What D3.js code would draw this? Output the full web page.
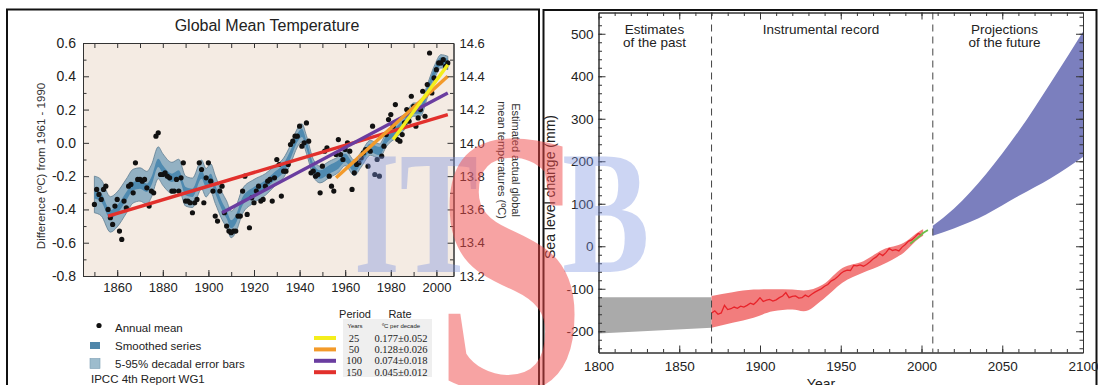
<!DOCTYPE html>
<html>
<head>
<meta charset="utf-8">
<script src="https://cdn.jsdelivr.net/npm/d3@7"></script>
<style>
  html, body { margin: 0; padding: 0; background: #fff; }
  svg { display: block; font-family: "Liberation Sans", Arial, Helvetica, sans-serif; }
</style>
</head>
<body>
<svg id="chart" width="1098" height="385"></svg>
<script>
// ---------------- data: global mean temperature ----------------
const tempFirstYear = 1850;
// annual mean anomaly (ºC vs 1961-1990), 1850..2005
const tempAnomaly = [
  -0.37, -0.28, -0.31, -0.34, -0.28, -0.26, -0.40, -0.45, -0.49, -0.38,
  -0.34, -0.53, -0.58, -0.35, -0.39, -0.26, -0.25, -0.30, -0.12, -0.22,
  -0.22, -0.23, -0.22, -0.27, -0.38, -0.29, -0.30,  0.04,  0.06, -0.19,
  -0.19, -0.18, -0.20, -0.21, -0.29, -0.29, -0.22, -0.29, -0.21, -0.12,
  -0.35, -0.35, -0.36, -0.42, -0.36, -0.34, -0.12, -0.16, -0.36, -0.21,
  -0.12, -0.23, -0.29, -0.44, -0.47, -0.29, -0.26, -0.42, -0.50, -0.53,
  -0.54, -0.53, -0.53, -0.44, -0.44, -0.29, -0.20, -0.43, -0.51, -0.33,
  -0.36, -0.29, -0.26, -0.35, -0.34, -0.26, -0.23, -0.22, -0.35, -0.21,
  -0.10, -0.13, -0.32, -0.17, -0.17, -0.13, -0.01,  0.01,  0.04,  0.04,
   0.10, -0.02,  0.00,  0.12,  0.01, -0.18, -0.17, -0.20, -0.19, -0.30,
  -0.14, -0.05, -0.03, -0.20, -0.26, -0.29, -0.07,  0.02, -0.07, -0.10,
  -0.04,  0.00, -0.05, -0.28, -0.18, -0.13, -0.12, -0.09, -0.06, -0.04,
  -0.14, -0.05,  0.10, -0.19, -0.10, -0.20, -0.08, -0.02,  0.05,  0.14,
   0.17,  0.10,  0.23,  0.02,  0.01,  0.05,  0.12,  0.20,  0.13,  0.28,
   0.22,  0.10,  0.15,  0.20,  0.31,  0.16,  0.35,  0.54,  0.30,  0.39,
   0.44,  0.48,  0.48,  0.50,  0.46,  0.48
];

// smoothed series (decadal), read at irregular years
const smoothYears = [1850, 1853, 1857, 1860, 1864, 1867, 1870, 1873, 1875, 1878,
  1880, 1884, 1887, 1890, 1893, 1897, 1899, 1901, 1903, 1906, 1908, 1910, 1912,
  1915, 1920, 1925, 1929, 1933, 1936, 1939, 1941, 1943, 1946, 1949, 1953, 1957,
  1960, 1964, 1967, 1971, 1975, 1978, 1983, 1986, 1990, 1993, 1996, 1999, 2002, 2005];
const smoothValues = [-0.31, -0.33, -0.43, -0.40, -0.32, -0.26, -0.25, -0.27, -0.23, -0.12,
  -0.16, -0.21, -0.19, -0.29, -0.30, -0.19, -0.24, -0.21, -0.28, -0.38, -0.43, -0.49, -0.46,
  -0.35, -0.29, -0.25, -0.20, -0.15, -0.07, 0.03, 0.06, -0.01, -0.15, -0.19, -0.16, -0.13,
  -0.09, -0.15, -0.10, -0.03, -0.05, 0.02, 0.08, 0.12, 0.20, 0.20, 0.31, 0.42, 0.49, 0.48];

// 5-95% decadal error (half width, ºC)
const errYears = [1850, 1870, 1890, 1910, 1930, 1950, 1970, 1990, 2005];
const errHalf = [0.11, 0.10, 0.09, 0.08, 0.06, 0.05, 0.045, 0.04, 0.04];
const smoothHalf = 0.025;

// linear trends (legend table)
const trendPeriods = ['25', '50', '100', '150'];
const trendRates = ['0.177±0.052', '0.128±0.026', '0.074±0.018', '0.045±0.012'];
const trendStartYear = [1981, 1956, 1906, 1856];
const trendEndYear = [2005, 2005, 2005, 2005];
const trendStartValue = [0.02, -0.21, -0.42, -0.44];
const trendEndValue = [0.47, 0.40, 0.30, 0.17];

const tempYTicks = [-0.8, -0.6, -0.4, -0.2, 0.0, 0.2, 0.4, 0.6];
const absYTicks = [13.2, 13.4, 13.6, 13.8, 14.0, 14.2, 14.4, 14.6];
const tempXTicks = [1860, 1880, 1900, 1920, 1940, 1960, 1980, 2000];

// ---------------- data: sea level ----------------
const pastYears = [1800, 1870];
const pastUpper = [-120, -120];
const pastLower = [-205, -192];

const gaugeYears = [1870, 1872, 1874, 1876, 1878, 1880, 1882, 1884, 1886, 1888,
  1890, 1892, 1894, 1896, 1898, 1900, 1902, 1904, 1906, 1908,
  1910, 1912, 1914, 1916, 1918, 1920, 1922, 1924, 1926, 1928,
  1930, 1932, 1934, 1936, 1938, 1940, 1942, 1944, 1946, 1948,
  1950, 1952, 1954, 1956, 1958, 1960, 1962, 1964, 1966, 1968,
  1970, 1972, 1974, 1976, 1978, 1980, 1982, 1984, 1986, 1988,
  1990, 1992, 1994, 1996, 1998, 2000];
const gaugeValues = [-157, -152, -160, -157, -139, -149, -147, -143, -146, -141,
  -143, -139, -134, -137, -130, -121, -130, -127, -125, -129,
  -126, -121, -117, -109, -121, -118, -117, -122, -121, -115,
  -119, -113, -108, -104, -100, -94, -90, -82, -78, -72,
  -64, -59, -56, -57, -45, -46, -44, -47, -43, -37,
  -30, -25, -17, -22, -15, -5, -10, -8, -11, -2,
  4, 12, 15, 22, 30, 27];

const gaugeBandYears = [1870, 1883, 1896, 1908, 1920, 1927, 1939, 1951, 1964, 1976, 1989, 1999, 2001];
const gaugeBandUpper = [-117, -108, -102, -101, -102, -104, -90, -51, -35, -8, 8, 36, 40];
const gaugeBandLower = [-192, -180, -168, -153, -149, -153, -125, -86, -62, -43, -15, 20, 25];

const satYears = [1993, 1995, 1997, 1999, 2001, 2003, 2004];
const satValues = [6, 12, 18, 24, 31, 36, 38];

const projYears = [2007, 2020, 2040, 2060, 2080, 2100];
const projUpper = [48, 88, 170, 270, 385, 505];
const projLower = [25, 42, 75, 118, 160, 210];

const eraBounds = [1870, 2007];
const seaYTicks = [-200, -100, 0, 100, 200, 300, 400, 500];
const seaXTicks = [1800, 1850, 1900, 1950, 2000, 2050, 2100];

// ---------------- styles ----------------
const trendColors = ['#f4ee1c', '#f39a2a', '#6a3da0', '#e2302c'];
const ink = '#222';

const svg = d3.select('#chart');

// panel frames
svg.append('rect').attr('x', 7).attr('y', 9.5).attr('width', 532).attr('height', 400)
  .attr('fill', 'none').attr('stroke', '#111').attr('stroke-width', 2);
svg.append('rect').attr('x', 543.5).attr('y', 10).attr('width', 553).attr('height', 400)
  .attr('fill', 'none').attr('stroke', '#111').attr('stroke-width', 2);

// helper: style an axis group
function styleAxis(g, size) {
  g.attr('font-family', null).attr('font-size', null);
  g.selectAll('.domain').attr('stroke', '#333');
  g.selectAll('.tick line').attr('stroke', '#333');
  g.selectAll('text').attr('fill', ink).style('font-size', size + 'px');
}
const fmt1 = d => d.toFixed(1);
const fmt0 = d => String(d);

// =================== LEFT: Global Mean Temperature ===================
const T = { left: 83, right: 453.5, top: 43, bottom: 276 };
const xT = d3.scaleLinear().domain([1845, 2007.5]).range([T.left, T.right]);
const yT = d3.scaleLinear().domain([-0.8, 0.6]).range([T.bottom, T.top]);
const yAbs = d3.scaleLinear().domain([13.2, 14.6]).range([T.bottom, T.top]);

svg.append('text').attr('x', 267).attr('y', 31).attr('text-anchor', 'middle')
  .attr('fill', ink).style('font-size', '16px').text('Global Mean Temperature');

svg.append('rect').attr('x', T.left).attr('y', T.top)
  .attr('width', T.right - T.left).attr('height', T.bottom - T.top)
  .attr('fill', '#f4ebe3');

const gT = svg.append('g');

// error band + smoothed series
const errScale = d3.scaleLinear().domain(errYears).range(errHalf);
const smooth = smoothYears.map((yr, i) => ({ yr, v: smoothValues[i], e: errScale(yr) }));

gT.append('path').datum(smooth)
  .attr('d', d3.area().curve(d3.curveMonotoneX)
    .x(d => xT(d.yr)).y0(d => yT(d.v - d.e)).y1(d => yT(d.v + d.e)))
  .attr('fill', '#93b1c3').attr('stroke', '#5f7d92').attr('stroke-width', 0.8);

gT.append('path').datum(smooth)
  .attr('d', d3.area().curve(d3.curveMonotoneX)
    .x(d => xT(d.yr)).y0(d => yT(d.v - smoothHalf)).y1(d => yT(d.v + smoothHalf)))
  .attr('fill', '#4f8ab0');

// annual means
gT.selectAll('circle.annual').data(tempAnomaly).enter().append('circle')
  .attr('class', 'annual')
  .attr('cx', (d, i) => xT(tempFirstYear + i))
  .attr('cy', d => yT(d))
  .attr('r', 2.6).attr('fill', '#111');

// trend lines (longest first so yellow ends on top)
const trendLine = d3.line().x(d => xT(d[0])).y(d => yT(d[1]));
d3.range(trendPeriods.length).reverse().forEach(i => {
  gT.append('path')
    .datum([[trendStartYear[i], trendStartValue[i]], [trendEndYear[i], trendEndValue[i]]])
    .attr('d', trendLine).attr('fill', 'none')
    .attr('stroke', trendColors[i]).attr('stroke-width', 3.4);
});

// axes (ticks pointing inward)
svg.append('g').attr('transform', `translate(${T.left},0)`)
  .call(d3.axisLeft(yT).tickValues(d3.range(-0.7, 0.6, 0.2)).tickSize(-3.5).tickSizeOuter(0).tickFormat(''))
  .call(g => styleAxis(g, 14));
svg.append('g').attr('transform', `translate(${T.left},0)`)
  .call(d3.axisLeft(yT).tickValues(tempYTicks).tickSize(-6).tickSizeOuter(0).tickPadding(7).tickFormat(fmt1))
  .call(g => styleAxis(g, 14));

svg.append('g').attr('transform', `translate(${T.right},0)`)
  .call(d3.axisRight(yAbs).tickValues(d3.range(13.3, 14.6, 0.2)).tickSize(-3.5).tickSizeOuter(0).tickFormat(''))
  .call(g => styleAxis(g, 13));
svg.append('g').attr('transform', `translate(${T.right},0)`)
  .call(d3.axisRight(yAbs).tickValues(absYTicks).tickSize(-6).tickSizeOuter(0).tickPadding(6).tickFormat(fmt1))
  .call(g => styleAxis(g, 13));

svg.append('g').attr('transform', `translate(0,${T.bottom})`)
  .call(d3.axisBottom(xT).tickValues(d3.range(1850, 2006, 10)).tickSize(-4).tickSizeOuter(0).tickFormat(''))
  .call(g => styleAxis(g, 13));
svg.append('g').attr('transform', `translate(0,${T.bottom})`)
  .call(d3.axisBottom(xT).tickValues(tempXTicks).tickSize(-6).tickSizeOuter(0).tickPadding(7).tickFormat(fmt0))
  .call(g => styleAxis(g, 13));

svg.append('g').attr('transform', `translate(0,${T.top})`)
  .call(d3.axisTop(xT).tickValues(d3.range(1850, 2006, 10)).tickSize(-5).tickSizeOuter(0).tickFormat(''))
  .call(g => styleAxis(g, 13));

// axis titles
svg.append('text').attr('transform', 'translate(45,166) rotate(-90)')
  .attr('text-anchor', 'middle').attr('fill', '#333').style('font-size', '11.5px')
  .text('Difference (ºC) from 1961 - 1990');

const rt = svg.append('text').attr('transform', 'translate(512,160) rotate(90)')
  .attr('text-anchor', 'middle').attr('fill', '#333').style('font-size', '11px');
rt.append('tspan').attr('x', 0).attr('dy', 0).text('Estimated actual global');
rt.append('tspan').attr('x', 0).attr('dy', 14).text('mean temperatures (ºC)');

// legend (left)
const lg = svg.append('g').style('font-size', '11.5px').attr('fill', ink);
lg.append('circle').attr('cx', 99).attr('cy', 325.5).attr('r', 2.6).attr('fill', '#111');
lg.append('text').attr('x', 115).attr('y', 332).text('Annual mean');
lg.append('rect').attr('x', 90).attr('y', 342).attr('width', 10).attr('height', 7).attr('fill', '#4f86aa');
lg.append('text').attr('x', 115).attr('y', 350).text('Smoothed series');
lg.append('rect').attr('x', 90).attr('y', 358.5).attr('width', 10).attr('height', 10)
  .attr('fill', '#9dbccd').attr('stroke', '#7a9db3').attr('stroke-width', 0.6);
lg.append('text').attr('x', 115).attr('y', 367.5).text('5-95% decadal error bars');
lg.append('text').attr('x', 91).attr('y', 382.5).text('IPCC 4th Report WG1');

// legend table (right)
const tb = svg.append('g').attr('fill', ink);
tb.append('rect').attr('x', 343).attr('y', 319).attr('width', 89).attr('height', 58).attr('fill', '#efefef');
tb.append('text').attr('x', 355).attr('y', 318).attr('text-anchor', 'middle').style('font-size', '11px').text('Period');
tb.append('text').attr('x', 400).attr('y', 318).attr('text-anchor', 'middle').style('font-size', '11px').text('Rate');
tb.append('text').attr('x', 355).attr('y', 327.5).attr('text-anchor', 'middle').style('font-size', '6px').text('Years');
tb.append('text').attr('x', 401).attr('y', 327.5).attr('text-anchor', 'middle').style('font-size', '6px').text('ºC  per decade');
trendPeriods.forEach((p, i) => {
  const cy = 338 + i * 11.4;
  tb.append('rect').attr('x', 314).attr('y', cy - 2).attr('width', 22).attr('height', 4).attr('fill', trendColors[i]);
  tb.append('text').attr('x', 354).attr('y', cy + 3.6).attr('text-anchor', 'middle')
    .style('font-family', '"Liberation Serif", serif').style('font-size', '10.5px').text(p);
  tb.append('text').attr('x', 401).attr('y', cy + 3.6).attr('text-anchor', 'middle')
    .style('font-family', '"Liberation Serif", serif').style('font-size', '10.5px').text(trendRates[i]);
});

// =================== RIGHT: Sea level change ===================
const S = { left: 598.5, right: 1083, top: 12.5, bottom: 352.5 };
const xS = d3.scaleLinear().domain([1800, 2100]).range([S.left, S.right]);
const yS = d3.scaleLinear().domain([-250, 550]).range([S.bottom, S.top]);
const gS = svg.append('g');

// estimates of the past
gS.append('path').datum(pastYears.map((yr, i) => [yr, pastLower[i], pastUpper[i]]))
  .attr('d', d3.area().x(d => xS(d[0])).y0(d => yS(d[1])).y1(d => yS(d[2])))
  .attr('fill', '#aaaaaa');

// tide gauge band + record
gS.append('path').datum(gaugeBandYears.map((yr, i) => [yr, gaugeBandLower[i], gaugeBandUpper[i]]))
  .attr('d', d3.area().curve(d3.curveMonotoneX).x(d => xS(d[0])).y0(d => yS(d[1])).y1(d => yS(d[2])))
  .attr('fill', '#f27d7d');
gS.append('path').datum(gaugeYears.map((yr, i) => [yr, gaugeValues[i]]))
  .attr('d', d3.line().x(d => xS(d[0])).y(d => yS(d[1])))
  .attr('fill', 'none').attr('stroke', '#e8232a').attr('stroke-width', 1.3);

// satellite altimetry
gS.append('path').datum(satYears.map((yr, i) => [yr, satValues[i]]))
  .attr('d', d3.line().x(d => xS(d[0])).y(d => yS(d[1])))
  .attr('fill', 'none').attr('stroke', '#6cbf48').attr('stroke-width', 1.8);

// projections
gS.append('path').datum(projYears.map((yr, i) => [yr, projLower[i], projUpper[i]]))
  .attr('d', d3.area().curve(d3.curveMonotoneX).x(d => xS(d[0])).y0(d => yS(d[1])).y1(d => yS(d[2])))
  .attr('fill', '#7b7fbe');

// era separators
gS.selectAll('line.era').data(eraBounds).enter().append('line')
  .attr('x1', d => xS(d)).attr('x2', d => xS(d))
  .attr('y1', S.top).attr('y2', S.bottom)
  .attr('stroke', '#444').attr('stroke-width', 1).attr('stroke-dasharray', '7,5');

// era labels
const eraText = svg.append('g').attr('fill', ink).attr('text-anchor', 'middle').style('font-size', '13.5px');
[[654.5, ['Estimates', 'of the past']], [821, ['Instrumental record']], [1004.5, ['Projections', 'of the future']]]
  .forEach(([x, lines]) => lines.forEach((t, j) =>
    eraText.append('text').attr('x', x).attr('y', 33.5 + j * 13.5).text(t)));

// axes
svg.append('g').attr('transform', `translate(${S.left},0)`)
  .call(d3.axisLeft(yS).tickValues(d3.range(-240, 550, 20)).tickSize(-3.5).tickSizeOuter(0).tickFormat(''))
  .call(g => styleAxis(g, 13.5));
svg.append('g').attr('transform', `translate(${S.left},0)`)
  .call(d3.axisLeft(yS).tickValues(seaYTicks).tickSize(-7).tickSizeOuter(0).tickPadding(5).tickFormat(fmt0))
  .call(g => styleAxis(g, 13.5));
svg.append('g').attr('transform', `translate(${S.right},0)`)
  .call(d3.axisRight(yS).tickValues(d3.range(-240, 550, 20)).tickSize(-3.5).tickSizeOuter(0).tickFormat(''))
  .call(g => styleAxis(g, 13.5));
svg.append('g').attr('transform', `translate(${S.right},0)`)
  .call(d3.axisRight(yS).tickValues(seaYTicks).tickSize(-7).tickSizeOuter(0).tickFormat(''))
  .call(g => styleAxis(g, 13.5));
svg.append('g').attr('transform', `translate(0,${S.bottom})`)
  .call(d3.axisBottom(xS).tickValues(d3.range(1810, 2100, 10)).tickSize(-3.5).tickSizeOuter(0).tickFormat(''))
  .call(g => styleAxis(g, 13.5));
svg.append('g').attr('transform', `translate(0,${S.bottom})`)
  .call(d3.axisBottom(xS).tickValues(seaXTicks).tickSize(-7).tickSizeOuter(0).tickPadding(9).tickFormat(fmt0))
  .call(g => styleAxis(g, 13.5));
svg.append('g').attr('transform', `translate(0,${S.top})`)
  .call(d3.axisTop(xS).tickValues(d3.range(1810, 2100, 10)).tickSize(-3.5).tickSizeOuter(0).tickFormat(''))
  .call(g => styleAxis(g, 13.5));
svg.append('g').attr('transform', `translate(0,${S.top})`)
  .call(d3.axisTop(xS).tickValues(seaXTicks).tickSize(-7).tickSizeOuter(0).tickFormat(''))
  .call(g => styleAxis(g, 13.5));

svg.append('text').attr('transform', 'translate(555,187) rotate(-90)')
  .attr('text-anchor', 'middle').attr('fill', ink).style('font-size', '14px')
  .text('Sea level change (mm)');
svg.append('text').attr('x', 821).attr('y', 389).attr('text-anchor', 'middle')
  .attr('fill', ink).style('font-size', '14px').text('Year');

// =================== watermark ===================
const mark = svg.append('g').attr('pointer-events', 'none')
  .style('font-family', '"Liberation Serif", "Times New Roman", serif').style('font-weight', 'bold');
mark.append('text').attr('transform', 'translate(354,272) scale(0.67,1)')
  .style('font-size', '175px').attr('fill', '#7890e0').attr('fill-opacity', 0.38).text('IT');
mark.append('text').attr('transform', 'translate(562,272) scale(0.75,1)')
  .style('font-size', '175px').attr('fill', '#7890e0').attr('fill-opacity', 0.38).text('B');
mark.append('text').attr('transform', 'translate(434,390) scale(0.72,1)')
  .style('font-size', '380px').attr('fill', '#f04848').attr('fill-opacity', 0.5).text('S');
</script>
</body>
</html>
